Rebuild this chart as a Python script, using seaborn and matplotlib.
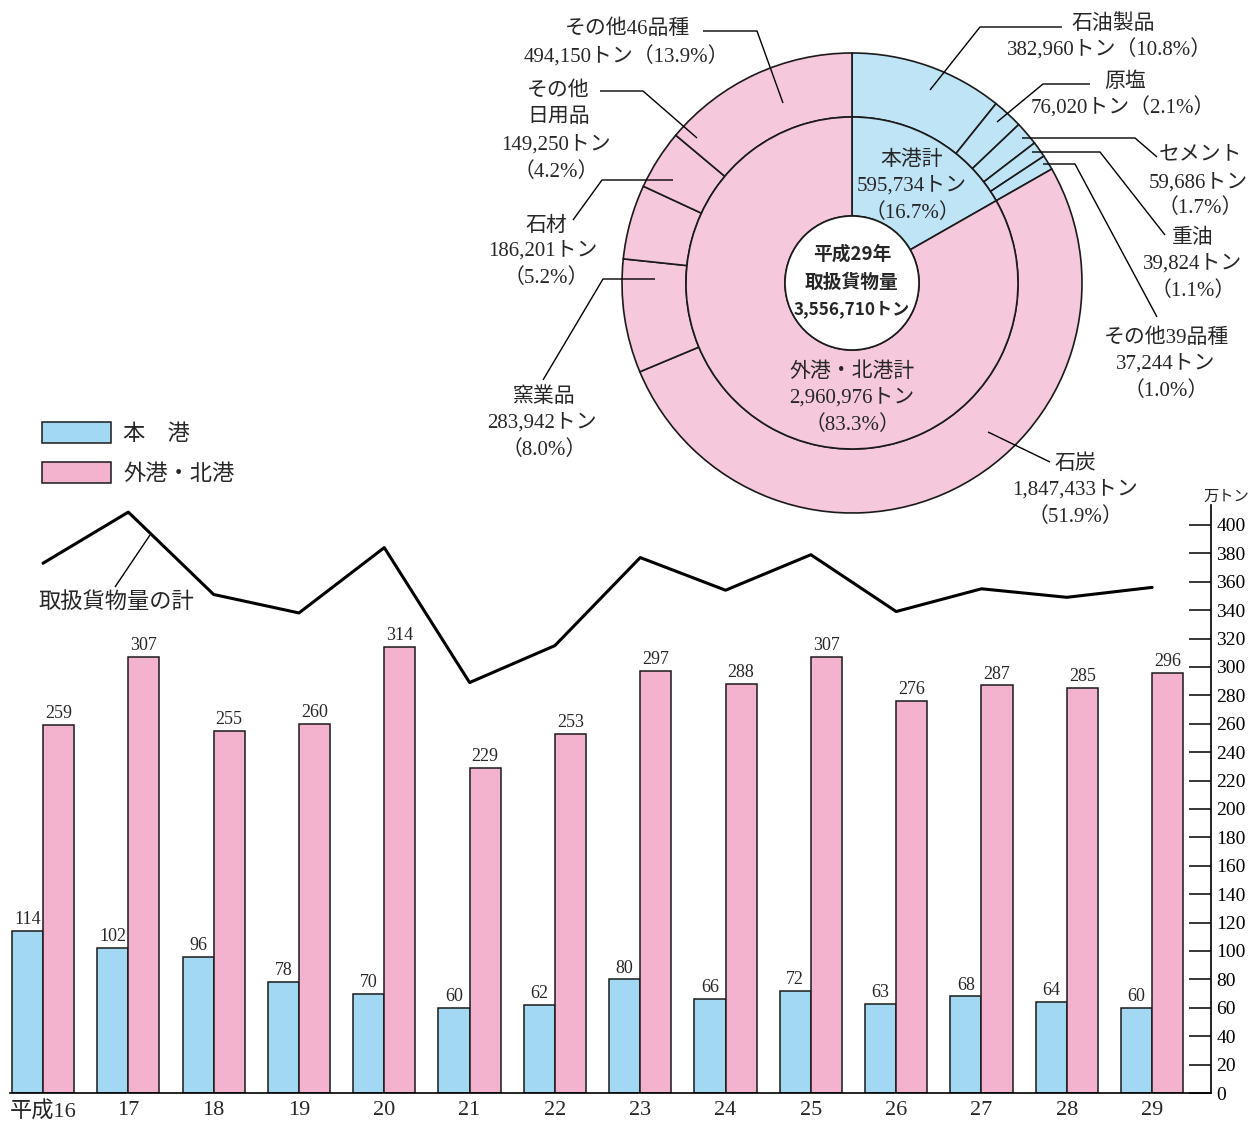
import numpy as np
import pandas as pd
import matplotlib
matplotlib.use("Agg")
import matplotlib.pyplot as plt
import seaborn as sns
from matplotlib.patches import Patch

# ---------------- data ----------------
years = ["平成16", "17", "18", "19", "20", "21", "22", "23", "24", "25", "26", "27", "28", "29"]
honko = [114, 102, 96, 78, 70, 60, 62, 80, 66, 72, 63, 68, 64, 60]
gaiko = [259, 307, 255, 260, 314, 229, 253, 297, 288, 307, 276, 287, 285, 296]
totals = [373, 409, 351, 338, 384, 289, 315, 377, 354, 379, 339, 355, 349, 356]
series_names = ["本　港", "外港・北港"]
yticks = list(range(0, 401, 20))

inner_labels = ["本港計", "外港・北港計"]
inner_values = [595734, 2960976]
inner_pct = [16.7, 83.3]

outer_labels = ["石油製品", "原塩", "セメント", "重油", "その他39品種",
                "石炭", "窯業品", "石材", "その他日用品", "その他46品種"]
outer_values = [382960, 76020, 59686, 39824, 37244,
                1847433, 283942, 186201, 149250, 494150]
outer_pct = [10.8, 2.1, 1.7, 1.1, 1.0, 51.9, 8.0, 5.2, 4.2, 13.9]
outer_group = [0, 0, 0, 0, 0, 1, 1, 1, 1, 1]

total_value = 3556710

# ---------------- style ----------------
sns.set_theme(style="white")
plt.rcParams["font.family"] = ["Liberation Serif", "Noto Sans CJK JP"]
plt.rcParams["axes.unicode_minus"] = False

BAR_BLUE = "#a2d8f2"
BAR_PINK = "#f3b3cf"
PIE_BLUE = "#bfe4f6"
PIE_PINK = "#f6c8dc"
EDGE = "#1a1a1a"

W, H = 1251, 1124
fig = plt.figure(figsize=(W / 100, H / 100), dpi=100)

# ---------------- bar chart ----------------
ax = fig.add_axes([10 / W, 31 / H, 1201 / W, 588 / H])
df = pd.DataFrame({
    "year": years * 2,
    "value": honko + gaiko,
    "port": [series_names[0]] * len(years) + [series_names[1]] * len(years),
})
sns.barplot(data=df, x="year", y="value", hue="port", order=years,
            hue_order=series_names, palette=[BAR_BLUE, BAR_PINK],
            saturation=1, width=0.73, edgecolor=EDGE, linewidth=1.1,
            legend=False, ax=ax)
for cont in ax.containers:
    ax.bar_label(cont, fontsize=13, padding=2)

sns.lineplot(x=np.arange(len(years)), y=totals, color="black",
             linewidth=2.2, ax=ax, legend=False)

ax.set_xlim(-0.387, 13.69)
ax.set_ylim(0, 414)
ax.set_yticks(yticks)
ax.yaxis.tick_right()
ax.tick_params(axis="y", direction="in", length=16, width=1.1,
               labelsize=14, pad=4, right=True, left=False,
               labelright=True, labelleft=False, colors="black")
ax.tick_params(axis="x", length=0, labelsize=16, pad=6)
ax.set_xlabel("")
ax.set_ylabel("")
for s in ["left", "top"]:
    ax.spines[s].set_visible(False)
for s in ["right", "bottom"]:
    ax.spines[s].set_visible(True)
    ax.spines[s].set_color("black")
    ax.spines[s].set_linewidth(1.2)
ax.set_facecolor("none")
ax.grid(False)

fig.text(1249 / W, 1 - 497 / H, "万トン", fontsize=11, ha="right", va="center")

handles = [Patch(facecolor=BAR_BLUE, edgecolor=EDGE, linewidth=1.1),
           Patch(facecolor=BAR_PINK, edgecolor=EDGE, linewidth=1.1)]
fig.legend(handles, series_names, loc="upper left",
           bbox_to_anchor=(42 / W, 1 - 422 / H), bbox_transform=fig.transFigure,
           frameon=False, fontsize=16, handlelength=3.1, handleheight=1.1,
           handletextpad=0.55, labelspacing=0.75, borderpad=0, borderaxespad=0)

# ---------------- donut ----------------
ax2 = fig.add_axes([0, 0, 1, 1])
ax2.set_facecolor("none")
CX, CY = 852, H - 283

outer_colors = [PIE_BLUE if g == 0 else PIE_PINK for g in outer_group]
ax2.pie(outer_values, radius=230, center=(CX, CY), startangle=90, counterclock=False,
        colors=outer_colors, wedgeprops=dict(width=64, edgecolor=EDGE, linewidth=1.2))
ax2.pie(inner_values, radius=166, center=(CX, CY), startangle=90, counterclock=False,
        colors=[PIE_BLUE, PIE_PINK], wedgeprops=dict(width=99, edgecolor=EDGE, linewidth=1.2))
ax2.pie([1], radius=67, center=(CX, CY), colors=["white"],
        wedgeprops=dict(edgecolor=EDGE, linewidth=1.2))
ax2.set_xlim(0, W)
ax2.set_ylim(0, H)
ax2.set_aspect("auto")
ax2.axis("off")


def T(x, y, s, size=15, **kw):
    ax2.text(x, H - y, s, ha="center", va="center", fontsize=size, **kw)


def L(pts):
    xs = [p[0] for p in pts]
    ys = [H - p[1] for p in pts]
    ax2.plot(xs, ys, color="black", linewidth=1.0, solid_capstyle="butt")


def ton(v):
    return f"{v:,}トン"


def pct(p):
    return f"（{p:.1f}%）"


# outer labels
T(1113, 24, outer_labels[0]); T(1110, 50, ton(outer_values[0]) + pct(outer_pct[0]))
L([(930, 90), (980, 27), (1062, 27)])
T(1125, 82, outer_labels[1]); T(1123, 108, ton(outer_values[1]) + pct(outer_pct[1]))
L([(997, 122), (1043, 84), (1090, 84)])
T(1200, 155, outer_labels[2]); T(1198, 183, ton(outer_values[2])); T(1200, 208, pct(outer_pct[2]))
L([(1022, 138), (1135, 138), (1157, 157)])
T(1193, 238, outer_labels[3]); T(1193, 264, ton(outer_values[3])); T(1193, 291, pct(outer_pct[3]))
L([(1032, 152), (1100, 152), (1165, 235)])
T(1166, 338, outer_labels[4]); T(1166, 364, ton(outer_values[4])); T(1166, 391, pct(outer_pct[4]))
L([(1043, 164), (1075, 164), (1157, 317)])
T(1075, 464, outer_labels[5]); T(1075, 490, ton(outer_values[5])); T(1075, 517, pct(outer_pct[5]))
L([(988, 432), (1050, 462)])
T(544, 397, outer_labels[6]); T(542, 423, ton(outer_values[6])); T(544, 450, pct(outer_pct[6]))
L([(655, 279), (603, 279), (543, 380)])
T(546, 226, outer_labels[7]); T(543, 251, ton(outer_values[7])); T(546, 278, pct(outer_pct[7]))
L([(673, 180), (602, 180), (573, 220)])
T(558, 91, outer_labels[8][:3]); T(559, 118, outer_labels[8][3:])
T(556, 145, ton(outer_values[8])); T(556, 172, pct(outer_pct[8]))
L([(600, 91), (643, 91), (697, 138)])
T(627, 29, outer_labels[9]); T(626, 57, ton(outer_values[9]) + pct(outer_pct[9]))
L([(703, 31), (757, 31), (783, 103)])

# inner labels
T(912, 160, inner_labels[0]); T(912, 186, ton(inner_values[0])); T(912, 213, pct(inner_pct[0]))
T(852, 372, inner_labels[1]); T(852, 398, ton(inner_values[1])); T(852, 425, pct(inner_pct[1]))

# center
cfont = dict(family=["Noto Sans CJK JP"], fontweight="bold")
T(852, 254, "平成29年", 13.5, **cfont)
T(852, 282, "取扱貨物量", 13.5, **cfont)
T(852, 309, ton(total_value), 12.3, **cfont)

# line label
ax2.text(38, H - 603, "取扱貨物量の計", ha="left", va="center", fontsize=16)
L([(115, 587), (150, 535)])

fig.savefig("out.png", dpi=100)
